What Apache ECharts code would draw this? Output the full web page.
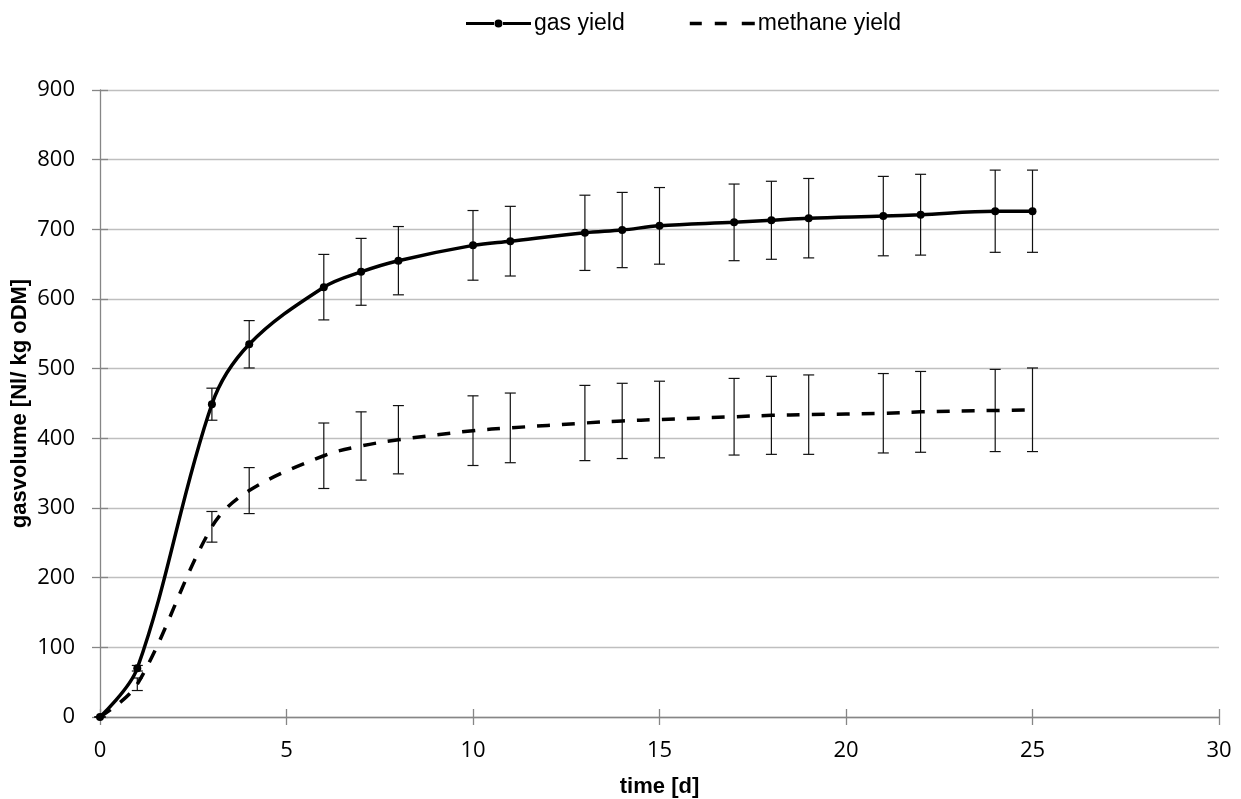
<!DOCTYPE html>
<html>
<head>
<meta charset="utf-8">
<script src="https://cdn.jsdelivr.net/npm/echarts@6/dist/echarts.min.js"></script>
<style>
  html, body { margin: 0; padding: 0; background: #fff; }
  #chart { width: 1241px; height: 799px; }
</style>
</head>
<body>
<div id="chart"></div>
<script>
// values
const days = [0, 1, 3, 4, 6, 7, 8, 10, 11, 13, 14, 15, 17, 18, 19, 21, 22, 24, 25];
const gasYield = [0, 70, 449, 535, 617, 639, 655, 677, 683, 695, 699, 705, 710, 713, 716, 719, 721, 726, 726];
const gasErr = [0, 4, 23, 34, 47, 48, 49, 50, 50, 54, 54, 55, 55, 56, 57, 57, 58, 59, 59];
const methaneYield = [0, 47, 273, 325, 375, 389, 398, 411, 415, 422, 425, 427, 431, 433, 434, 436, 438, 440, 441];
const methaneErr = [0, 9, 22, 33, 47, 49, 49, 50, 50, 54, 54, 55, 55, 56, 57, 57, 58, 59, 60];
const xTicks = [0, 5, 10, 15, 20, 25, 30];
const yTicks = [0, 100, 200, 300, 400, 500, 600, 700, 800, 900];

const pairs = (ys) => days.map((d, i) => [d, ys[i]]);
const bars = (ys, errs) => days.map((d, i) => [d, ys[i] - errs[i], ys[i] + errs[i]]);

const renderErrorBar = (params, api) => {
  const x = api.value(0);
  const lo = api.coord([x, api.value(1)]);
  const hi = api.coord([x, api.value(2)]);
  const w = 5.5;
  const style = { stroke: '#111', lineWidth: 1.2 };
  return {
    type: 'group',
    children: [
      { type: 'line', shape: { x1: lo[0], y1: lo[1], x2: hi[0], y2: hi[1] }, style },
      { type: 'line', shape: { x1: lo[0] - w, y1: lo[1], x2: lo[0] + w, y2: lo[1] }, style },
      { type: 'line', shape: { x1: hi[0] - w, y1: hi[1], x2: hi[0] + w, y2: hi[1] }, style }
    ]
  };
};

// legend icons: solid line with a dot, three dashes
const gasIcon = 'path://M0,2.5h28v3h-28z M37,2.5h28v3h-28z M28.5,4a4,4 0 1,1 8,0a4,4 0 1,1 -8,0z';
const methaneIcon = 'path://M0,2.3h12v3.4h-12z M25,2.3h12v3.4h-12z M52,2.3h13v3.4h-13z M0,0h0.01v0.01h-0.01z M0,8h0.01v-0.01h-0.01z';

const axisColor = '#868686';
const tickFont = { fontFamily: 'Open Sans', fontSize: 22, color: '#000' };
const nameFont = { fontFamily: 'Liberation Sans', fontSize: 22, fontWeight: 'bold', color: '#000' };

const chart = echarts.init(document.getElementById('chart'));
chart.setOption({
  animation: false,
  backgroundColor: '#fff',
  legend: {
    top: 12,
    left: 466,
    padding: 0,
    itemWidth: 65,
    itemHeight: 8,
    itemGap: 65,
    textStyle: { fontFamily: 'Liberation Sans', fontSize: 23, color: '#000', padding: [0, 0, 0, -2] },
    data: [
      { name: 'gas yield', icon: gasIcon },
      { name: 'methane yield', icon: methaneIcon }
    ]
  },
  grid: { left: 100, right: 22, top: 90, bottom: 82, outerBoundsMode: 'none', containLabel: false },
  xAxis: [
    {
      type: 'value', min: xTicks[0], max: xTicks[xTicks.length - 1], interval: 5,
      name: 'time [d]', nameLocation: 'middle', nameGap: 59, nameTextStyle: nameFont,
      nameMoveOverlap: false,
      axisLine: { lineStyle: { color: axisColor, width: 1.3 } },
      axisTick: { length: 8, lineStyle: { color: axisColor, width: 1.3 } },
      axisLabel: { margin: 23, ...tickFont },
      splitLine: { show: false }
    },
    {
      type: 'value', min: 0, max: 30, interval: 5, position: 'bottom',
      axisLine: { show: false },
      axisTick: { inside: true, length: 8, lineStyle: { color: axisColor, width: 1.3 } },
      axisLabel: { show: false },
      splitLine: { show: false }
    }
  ],
  yAxis: [
    {
      type: 'value', min: yTicks[0], max: yTicks[yTicks.length - 1], interval: 100,
      name: 'gasvolume [Nl/ kg oDM]', nameLocation: 'middle', nameGap: 69, nameTextStyle: nameFont,
      nameMoveOverlap: false,
      axisLine: { show: true, lineStyle: { color: axisColor, width: 1.3 } },
      axisTick: { show: true, length: 8, lineStyle: { color: axisColor, width: 1.3 } },
      axisLabel: { margin: 25, ...tickFont },
      splitLine: { lineStyle: { color: '#bfbfbf', width: 1.3 } }
    },
    {
      type: 'value', min: 0, max: 900, interval: 100, position: 'left',
      axisLine: { show: false },
      axisTick: { show: true, inside: true, length: 8, lineStyle: { color: axisColor, width: 1.3 } },
      axisLabel: { show: false },
      splitLine: { show: false }
    }
  ],
  series: [
    {
      name: 'gas error', type: 'custom', renderItem: renderErrorBar,
      encode: { x: 0, y: [1, 2] }, data: bars(gasYield, gasErr), z: 1, silent: true
    },
    {
      name: 'methane error', type: 'custom', renderItem: renderErrorBar,
      encode: { x: 0, y: [1, 2] }, data: bars(methaneYield, methaneErr), z: 1, silent: true
    },
    {
      name: 'methane yield', type: 'line', smooth: 0.35, symbol: 'none',
      data: pairs(methaneYield), z: 3,
      itemStyle: { color: '#000' },
      lineStyle: { color: '#000', width: 3.5, type: [13, 12] }
    },
    {
      name: 'gas yield', type: 'line', smooth: 0.35, symbol: 'circle', symbolSize: 8,
      data: pairs(gasYield), z: 4,
      itemStyle: { color: '#000' },
      lineStyle: { color: '#000', width: 3.5 }
    }
  ]
});
</script>
</body>
</html>
